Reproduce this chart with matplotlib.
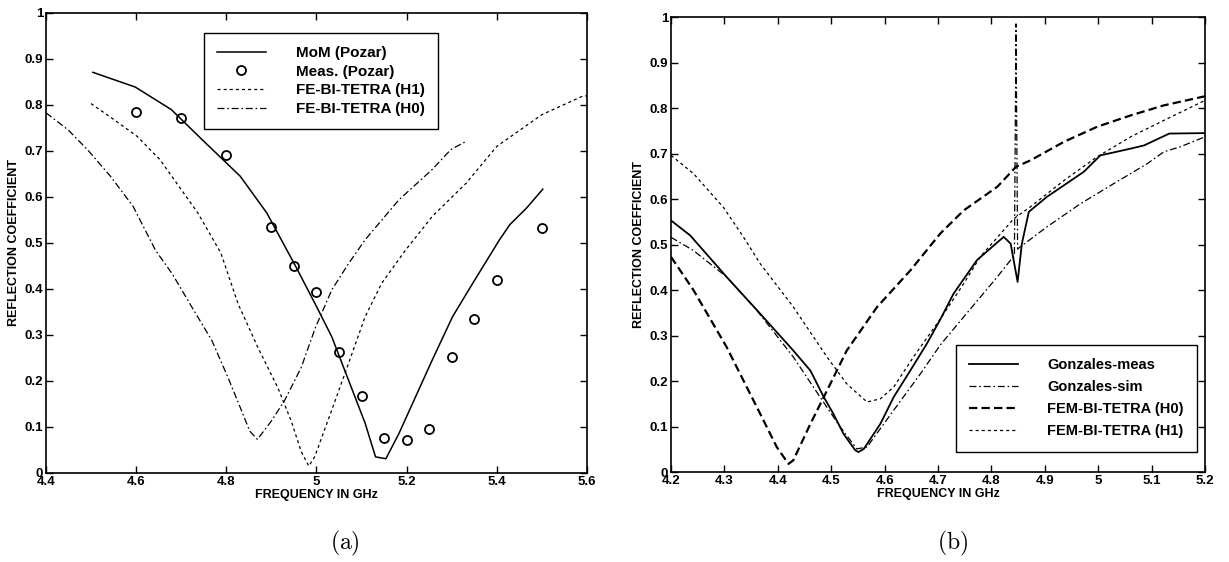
import matplotlib
matplotlib.use("Agg")
import matplotlib.pyplot as plt

plt.rcParams['font.family'] = ['Liberation Sans', 'DejaVu Sans']
plt.rcParams['font.weight'] = 'bold'
plt.rcParams['mathtext.fontset'] = 'cm'
plt.rcParams['lines.scale_dashes'] = False

# ---- panel (a) data ----
a_mom_f = [4.504, 4.598, 4.678, 4.746, 4.831, 4.89, 4.954, 5.0, 5.034, 5.071, 5.108,
           5.131, 5.154, 5.183, 5.22, 5.257, 5.302, 5.347, 5.406, 5.429, 5.466, 5.502]
a_mom_r = [0.871, 0.839, 0.79, 0.725, 0.645, 0.565, 0.449, 0.362, 0.296, 0.202, 0.108,
           0.035, 0.031, 0.086, 0.166, 0.246, 0.34, 0.413, 0.507, 0.54, 0.576, 0.617]

a_meas_f = [4.6, 4.7, 4.8, 4.9, 4.95, 5.0, 5.05, 5.1, 5.15, 5.2, 5.25, 5.3, 5.35, 5.4, 5.5]
a_meas_r = [0.784, 0.772, 0.692, 0.535, 0.45, 0.393, 0.262, 0.167, 0.075, 0.071, 0.095,
            0.253, 0.334, 0.42, 0.532]

a_h1_f = [4.5, 4.551, 4.602, 4.653, 4.695, 4.737, 4.788, 4.826, 4.87, 4.914, 4.944, 4.966,
          4.983, 4.996, 5.034, 5.071, 5.108, 5.145, 5.198, 5.257, 5.332, 5.40, 5.50, 5.59, 5.6]
a_h1_r = [0.803, 0.768, 0.732, 0.681, 0.623, 0.565, 0.478, 0.368, 0.273, 0.186, 0.113, 0.047,
          0.015, 0.035, 0.137, 0.238, 0.34, 0.413, 0.485, 0.558, 0.63, 0.71, 0.779, 0.819, 0.82]

a_h0_f = [4.4, 4.449, 4.492, 4.543, 4.593, 4.643, 4.68, 4.724, 4.768, 4.804, 4.834, 4.852,
          4.869, 4.9, 4.929, 4.966, 4.998, 5.034, 5.071, 5.108, 5.183, 5.257, 5.298, 5.33]
a_h0_r = [0.783, 0.746, 0.703, 0.645, 0.58, 0.484, 0.433, 0.36, 0.288, 0.207, 0.135, 0.091,
          0.073, 0.113, 0.157, 0.229, 0.317, 0.398, 0.455, 0.507, 0.594, 0.66, 0.703, 0.72]

# ---- panel (b) data ----
b_gm_f = [4.2, 4.236, 4.304, 4.367, 4.429, 4.461, 4.486, 4.504, 4.523, 4.545, 4.551, 4.561,
          4.592, 4.617, 4.648, 4.679, 4.704, 4.729, 4.773, 4.823, 4.836, 4.849, 4.857, 4.87,
          4.904, 4.973, 5.004, 5.061, 5.086, 5.133, 5.2]
b_gm_r = [0.553, 0.52, 0.429, 0.348, 0.267, 0.223, 0.165, 0.128, 0.084, 0.048, 0.044, 0.051,
          0.106, 0.165, 0.223, 0.282, 0.335, 0.392, 0.466, 0.517, 0.502, 0.418, 0.502, 0.572,
          0.605, 0.66, 0.696, 0.711, 0.718, 0.744, 0.745]

b_gs_f = [4.2, 4.242, 4.304, 4.361, 4.429, 4.479, 4.517, 4.548, 4.567, 4.617, 4.667, 4.704,
          4.748, 4.811, 4.836, 4.843, 4.846, 4.849, 4.854, 4.904, 4.967, 5.029, 5.092, 5.123,
          5.154, 5.2]
b_gs_r = [0.516, 0.487, 0.429, 0.355, 0.253, 0.165, 0.099, 0.051, 0.055, 0.136, 0.216, 0.279,
          0.341, 0.429, 0.466, 0.475, 0.985, 0.49, 0.495, 0.539, 0.59, 0.634, 0.678, 0.704,
          0.715, 0.737]

b_h0_f = [4.2, 4.242, 4.304, 4.367, 4.398, 4.42, 4.429, 4.461, 4.492, 4.529, 4.586, 4.648,
          4.704, 4.748, 4.811, 4.846, 4.873, 4.936, 4.998, 5.061, 5.123, 5.2]
b_h0_r = [0.473, 0.4, 0.275, 0.128, 0.055, 0.018, 0.026, 0.106, 0.179, 0.267, 0.363, 0.443,
          0.524, 0.575, 0.627, 0.671, 0.685, 0.726, 0.759, 0.784, 0.806, 0.826]

b_h1_f = [4.2, 4.242, 4.298, 4.336, 4.367, 4.429, 4.492, 4.529, 4.567, 4.592, 4.617, 4.654,
          4.704, 4.748, 4.779, 4.842, 4.873, 4.936, 4.998, 5.061, 5.123, 5.2]
b_h1_r = [0.696, 0.656, 0.582, 0.516, 0.458, 0.363, 0.253, 0.194, 0.154, 0.161, 0.187, 0.253,
          0.336, 0.414, 0.473, 0.557, 0.583, 0.641, 0.693, 0.737, 0.773, 0.817]

a_xticks = [4.4, 4.6, 4.8, 5.0, 5.2, 5.4, 5.6]
a_xlabels = ['4.4', '4.6', '4.8', '5', '5.2', '5.4', '5.6']
b_xticks = [4.2, 4.3, 4.4, 4.5, 4.6, 4.7, 4.8, 4.9, 5.0, 5.1, 5.2]
b_xlabels = ['4.2', '4.3', '4.4', '4.5', '4.6', '4.7', '4.8', '4.9', '5', '5.1', '5.2']
yticks = [0, 0.1, 0.2, 0.3, 0.4, 0.5, 0.6, 0.7, 0.8, 0.9, 1.0]
ylabels = ['0', '0.1', '0.2', '0.3', '0.4', '0.5', '0.6', '0.7', '0.8', '0.9', '1']

DOT = (0, (2.2, 2.2))
DASHDOT = (0, (5, 2, 1.2, 2))
DASH = (0, (6, 3))

fig = plt.figure(figsize=(12.29, 5.62), dpi=100)
ax1 = fig.add_axes([0.0374, 0.1584, 0.4402, 0.8185])
ax2 = fig.add_axes([0.546, 0.160, 0.4345, 0.8096])


def style_axes(ax, xticks, xlabels, xlim):
    ax.set_xlim(*xlim)
    ax.set_ylim(0, 1)
    ax.set_xticks(xticks)
    ax.set_xticklabels(xlabels)
    ax.set_yticks(yticks)
    ax.set_yticklabels(ylabels)
    ax.tick_params(direction='in', length=5, width=1, top=True, right=True,
                   labelsize=9.5, pad=2)
    for sp in ax.spines.values():
        sp.set_linewidth(1.2)
    ax.set_xlabel('FREQUENCY IN GHz', fontsize=9, fontweight='bold', labelpad=1)
    ax.set_ylabel('REFLECTION COEFFICIENT', fontsize=9, fontweight='bold', labelpad=3)


# (a)
ax1.plot(a_mom_f, a_mom_r, color='black', lw=1.1, label='MoM (Pozar)')
ax1.plot(a_meas_f, a_meas_r, 'o', mfc='none', mec='black', ms=6.5, mew=1.3,
         label='Meas. (Pozar)')
ax1.plot(a_h1_f, a_h1_r, color='black', lw=0.9, linestyle=DOT, label='FE-BI-TETRA (H1)')
ax1.plot(a_h0_f, a_h0_r, color='black', lw=0.9, linestyle=DASHDOT, label='FE-BI-TETRA (H0)')
style_axes(ax1, a_xticks, a_xlabels, (4.4, 5.6))
leg1 = ax1.legend(loc='upper left', bbox_to_anchor=(0.292, 0.956), borderaxespad=0,
                  fontsize=11, handlelength=3.2, handletextpad=2.0, labelspacing=0.3,
                  borderpad=0.85, fancybox=False, framealpha=1)
leg1.get_frame().set_edgecolor('black')
leg1.get_frame().set_linewidth(1.0)

# (b)
ax2.plot(b_gm_f, b_gm_r, color='black', lw=1.3, label='Gonzales-meas')
ax2.plot(b_gs_f, b_gs_r, color='black', lw=0.9, linestyle=DASHDOT, label='Gonzales-sim')
ax2.plot(b_h0_f, b_h0_r, color='black', lw=1.6, linestyle=DASH, label='FEM-BI-TETRA (H0)')
ax2.plot(b_h1_f, b_h1_r, color='black', lw=0.9, linestyle=DOT, label='FEM-BI-TETRA (H1)')
style_axes(ax2, b_xticks, b_xlabels, (4.2, 5.2))
leg2 = ax2.legend(loc='lower right', bbox_to_anchor=(0.985, 0.045), borderaxespad=0,
                  fontsize=10.5, handlelength=3.4, handletextpad=2.0, labelspacing=0.55,
                  borderpad=0.9, fancybox=False, framealpha=1)
leg2.get_frame().set_edgecolor('black')
leg2.get_frame().set_linewidth(1.0)

# captions
fig.text(345 / 1229, 1 - 543 / 562, r'$\mathrm{(a)}$', fontsize=17, ha='center', va='center')
fig.text(953 / 1229, 1 - 543 / 562, r'$\mathrm{(b)}$', fontsize=17, ha='center', va='center')

fig.savefig('out.png', dpi=100)
